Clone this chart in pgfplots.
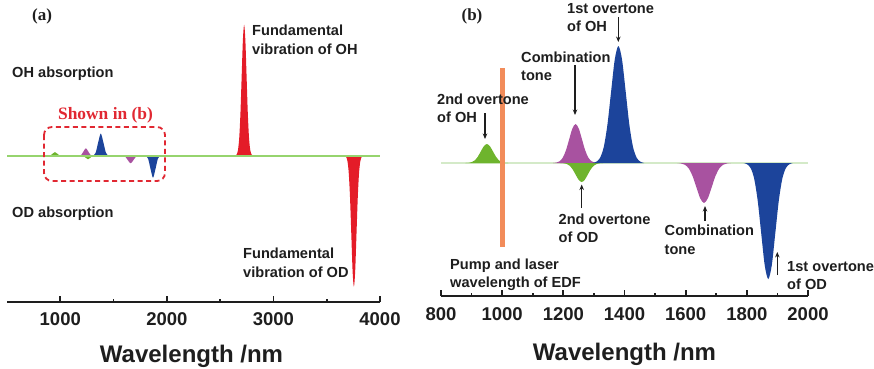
\documentclass[border=0pt]{standalone}
\usepackage{fontspec}
\setmainfont{Liberation Sans}
\newfontfamily\serifbf{Liberation Serif}
\usepackage{pgfplots}
\pgfplotsset{compat=1.18}
\usetikzlibrary{arrows.meta}
\definecolor{pkred}{RGB}{228,28,40}
\definecolor{pkgreen}{RGB}{110,180,45}
\definecolor{pkmag}{RGB}{168,82,160}
\definecolor{pkblue}{RGB}{28,68,155}
\definecolor{basegreen}{RGB}{150,212,110}
\definecolor{palegreen}{RGB}{212,234,200}
\definecolor{orangebar}{RGB}{242,140,90}
\definecolor{txt}{RGB}{30,30,30}
\definecolor{boxred}{RGB}{225,40,50}
\tikzset{
  lbl/.style={anchor=base west, inner sep=0pt, text=txt, font=\bfseries\fontsize{14.6}{17}\selectfont},
  arr/.style={-{Stealth[length=5.5pt,width=4.5pt]}, line width=1.1pt, draw=txt},
}
\pgfplotsset{
  panel/.style={
    scale only axis, enlargelimits=false,
    axis x line*=bottom, axis y line=none,
    x axis line style={line width=2pt, draw=txt, -},
    tick align=inside, major tick length=6.5pt, minor tick length=3.3pt,
    tick style={line width=1.8pt, draw=txt},
    xticklabel style={font=\bfseries\fontsize{18.5}{18.5}\selectfont, text=txt, anchor=base, inner sep=0pt},
    xlabel style={font=\bfseries\fontsize{24}{24}\selectfont, text=txt, anchor=base, inner sep=0pt, at={(axis description cs:0.5,0)}},
    xlabel={Wavelength /nm},
  },
  peak/.style={draw=none, smooth, fill=#1},
}
\begin{document}
\begin{tikzpicture}[x=1pt,y=1pt]
% ---------------- panel (a) ----------------
\begin{axis}[panel,
  at={(7pt,-302pt)}, anchor=south west,
  width=373pt, height=296.3pt,
  xmin=500, xmax=4000, ymin=-146.3, ymax=150,
  xtick={1000,2000,3000,4000}, xticklabels={1000,2000,3000,4000},
  minor xtick={1500,2500,3500},
  xticklabel style={yshift=-23pt},
  xlabel style={yshift=-60pt, xshift=-2pt},
]
% OH 2nd overtone
\addplot[peak=pkgreen] coordinates {(890,0)(910,0.49)(930,2.18)(950,3.6)(970,2.18)(990,0.49)(1010,0)} \closedcycle;
% OH combination tone
\addplot[peak=pkmag] coordinates {(1177,0)(1198,1.0)(1219,4.49)(1240,7.4)(1261,4.49)(1282,1.0)(1303,0)} \closedcycle;
% OH 1st overtone
\addplot[peak=pkblue] coordinates {(1308,0)(1332,3.0)(1356,13.46)(1380,22.2)(1404,13.46)(1428,3.0)(1452,0)} \closedcycle;
% OD 2nd overtone
\addplot[peak=pkgreen] coordinates {(1200,0)(1220,-0.49)(1240,-2.18)(1260,-3.6)(1280,-2.18)(1300,-0.49)(1320,0)} \closedcycle;
% OD combination tone
\addplot[peak=pkmag] coordinates {(1585,0)(1610,-1.03)(1635,-4.61)(1660,-7.6)(1685,-4.61)(1710,-1.03)(1735,0)} \closedcycle;
% OD 1st overtone
\addplot[peak=pkblue] coordinates {(1801,0)(1824,-2.98)(1847,-13.34)(1870,-22)(1893,-13.34)(1916,-2.98)(1939,0)} \closedcycle;
% OH fundamental
\addplot[peak=pkred] coordinates {(2644.5,0)(2656,1.45)(2667.5,5.75)(2679,17.72)(2690.5,42.54)(2702,79.45)(2713.5,115.61)(2725,131)(2736.5,115.61)(2748,79.45)(2759.5,42.54)(2771,17.72)(2782.5,5.75)(2794,1.45)(2805.5,0)} \closedcycle;
% OD fundamental
\addplot[peak=pkred] coordinates {(3671,0)(3683,-1.45)(3695,-5.75)(3707,-17.72)(3719,-42.54)(3731,-79.45)(3743,-115.61)(3755,-131)(3767,-115.61)(3779,-79.45)(3791,-42.54)(3803,-17.72)(3815,-5.75)(3827,-1.45)(3839,0)} \closedcycle;
% baseline
\addplot[draw=basegreen, line width=2pt] coordinates {(500,0)(4000,0)};
\end{axis}
% ---------------- panel (b) ----------------
\begin{axis}[panel,
  at={(441pt,-296pt)}, anchor=south west,
  width=367pt, height=288pt,
  xmin=800, xmax=2000, ymin=-133, ymax=155,
  xtick={800,1000,...,2000}, xticklabels={800,1000,1200,1400,1600,1800,2000},
  minor xtick={900,1100,...,1900},
  xticklabel style={yshift=-24pt},
  xlabel style={yshift=-64pt},
]
\addplot[draw=palegreen, line width=2pt] coordinates {(800,0)(2000,0)};
% OH 2nd overtone
\addplot[peak=pkgreen] coordinates {(880,0)(890,0.21)(900,0.83)(910,2.57)(920,6.17)(930,11.52)(940,16.77)(950,19)(960,16.77)(970,11.52)(980,6.17)(990,2.57)(1000,0.83)(1010,0.21)(1020,0)} \closedcycle;
% OH combination tone
\addplot[peak=pkmag] coordinates {(1166.5,0)(1177,0.43)(1187.5,1.71)(1198,5.28)(1208.5,12.66)(1219,23.65)(1229.5,34.42)(1240,39)(1250.5,34.42)(1261,23.65)(1271.5,12.66)(1282,5.28)(1292.5,1.71)(1303,0.43)(1313.5,0)} \closedcycle;
% OD 2nd overtone
\addplot[peak=pkgreen] coordinates {(1190,0)(1200,-0.21)(1210,-0.83)(1220,-2.57)(1230,-6.17)(1240,-11.52)(1250,-16.77)(1260,-19)(1270,-16.77)(1280,-11.52)(1290,-6.17)(1300,-2.57)(1310,-0.83)(1320,-0.21)(1330,0)} \closedcycle;
% OH 1st overtone
\addplot[peak=pkblue] coordinates {(1296,0)(1308,1.30)(1320,5.14)(1332,15.83)(1344,37.99)(1356,70.96)(1368,103.25)(1380,117)(1392,103.25)(1404,70.96)(1416,37.99)(1428,15.83)(1440,5.14)(1452,1.30)(1464,0)} \closedcycle;
% OD combination tone
\addplot[peak=pkmag] coordinates {(1572.5,0)(1585,-0.44)(1597.5,-1.76)(1610,-5.41)(1622.5,-12.99)(1635,-24.26)(1647.5,-35.30)(1660,-40)(1672.5,-35.30)(1685,-24.26)(1697.5,-12.99)(1710,-5.41)(1722.5,-1.76)(1735,-0.44)(1747.5,0)} \closedcycle;
% OD 1st overtone
\addplot[peak=pkblue] coordinates {(1789.5,0)(1801,-1.29)(1812.5,-5.09)(1824,-15.69)(1835.5,-37.67)(1847,-70.35)(1858.5,-102.37)(1870,-116)(1881.5,-102.37)(1893,-70.35)(1904.5,-37.67)(1916,-15.69)(1927.5,-5.09)(1939,-1.29)(1950.5,0)} \closedcycle;
% pump / laser wavelength of EDF
\addplot[draw=orangebar, line width=5pt] coordinates {(1000,95)(1000,-84)};
\end{axis}
% ---------------- annotations (a) ----------------
\node[anchor=base, inner sep=0pt, text=txt, font=\serifbf\bfseries\fontsize{17}{17}\selectfont] at (42,-20) {(a)};
\node[lbl] at (12,-77) {OH absorption};
\node[lbl] at (12,-217) {OD absorption};
\node[lbl] at (252,-35) {Fundamental};
\node[lbl] at (252,-54) {vibration of OH};
\node[lbl] at (243,-258) {Fundamental};
\node[lbl] at (243,-277) {vibration of OD};
\node[anchor=base, inner sep=0pt, text=boxred, font=\serifbf\bfseries\fontsize{17.4}{17.4}\selectfont] at (105.5,-119.5) {Shown in (b)};
\draw[boxred, line width=1.8pt, dash pattern=on 5pt off 3.5pt, rounded corners=8pt] (44,-127) rectangle (165,-181);
% ---------------- annotations (b) ----------------
\node[anchor=base, inner sep=0pt, text=txt, font=\serifbf\bfseries\fontsize{17}{17}\selectfont] at (472,-20) {(b)};
\node[lbl] at (567,-13) {1st overtone};
\node[lbl] at (567,-31) {of OH};
\draw[arr] (618.3,-17) -- (618.3,-42);
\node[lbl] at (521,-62) {Combination};
\node[lbl] at (521,-80) {tone};
\draw[arr] (575,-65) -- (575,-115);
\node[lbl] at (437,-104) {2nd overtone};
\node[lbl] at (437,-122.5) {of OH};
\draw[arr] (485,-113) -- (485,-139);
\node[lbl] at (558.5,-224) {2nd overtone};
\node[lbl] at (558.5,-242) {of OD};
\draw[arr] (581.7,-208) -- (581.7,-184.5);
\node[lbl] at (664.5,-235.5) {Combination};
\node[lbl] at (664.5,-254) {tone};
\draw[arr] (705,-221) -- (705,-206);
\node[lbl] at (787,-271.5) {1st overtone};
\node[lbl] at (787,-289.5) {of OD};
\draw[arr] (777.3,-275) -- (777.3,-252);
\node[lbl] at (450,-269.5) {Pump and laser};
\node[lbl] at (450,-287.5) {wavelength of EDF};
\pgfresetboundingbox
\path[use as bounding box] (0,0) rectangle (874,-368);
\end{tikzpicture}
\end{document}
